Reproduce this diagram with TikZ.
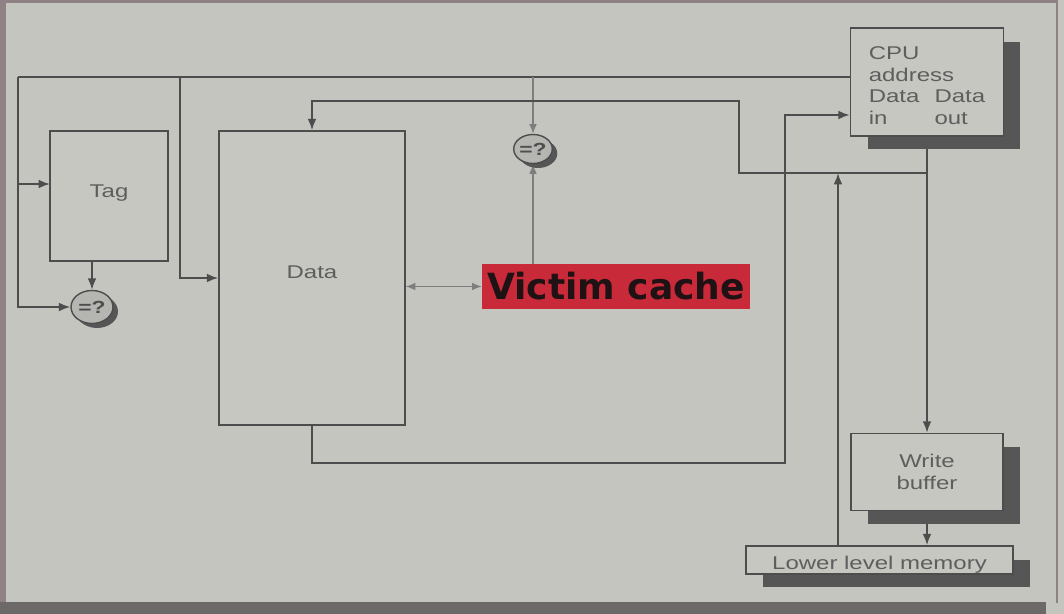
\documentclass[tikz,border=0pt]{standalone}
\usepackage{fontspec}
\setmainfont{Liberation Sans}[FakeStretch=1.3]
\newfontfamily\vicfamily{DejaVu Sans}
\usetikzlibrary{calc,arrows.meta,shapes.geometric,shadows}
\pgfdeclarelayer{back}
\pgfdeclarelayer{wires}
\pgfsetlayers{back,wires,main}
\definecolor{bgc}{HTML}{C4C5BF}
\definecolor{linec}{HTML}{4D4D4D}
\definecolor{boxc}{HTML}{C6C7C1}
\definecolor{txtc}{HTML}{5E5E5E}
\definecolor{shc}{HTML}{565656}
\definecolor{cmpc}{HTML}{B5B6B1}
\definecolor{lightc}{HTML}{7E7E7E}
\definecolor{vcred}{HTML}{C92A3A}
\definecolor{vctext}{HTML}{1E1214}
\definecolor{edgec}{HTML}{8E8285}
\definecolor{bottomc}{HTML}{6E6969}
\newcommand\lblfont{\fontsize{10.5}{12.3}\selectfont}
\newcommand\cmpfont{\fontsize{10}{11}\selectfont\bfseries}
\newcommand\vicfont{\vicfamily\bfseries\fontsize{20.5}{24}\selectfont}
\newcommand\shiftv[2]{\raisebox{#1}[\height][\depth]{#2}}
\begin{document}
\begin{tikzpicture}[x=0.02cm,y=-0.02cm,
  box/.style={draw=linec,line width=0.9pt,fill=boxc,inner sep=0pt,font=\lblfont,text=txtc,align=center},
  shbox/.style={box,drop shadow={shadow xshift=0.34cm,shadow yshift=-0.27cm,fill=shc,opacity=1}},
  cmp/.style={ellipse,draw=linec,line width=0.8pt,fill=cmpc,inner sep=0pt,font=\cmpfont,text=linec,
    drop shadow={shadow xshift=0.1cm,shadow yshift=-0.09cm,fill=shc,opacity=1}},
  wire/.style={draw=linec,line width=1pt},
  arr/.style={wire,-{Latex[length=6.5pt,width=5pt]}},
  lwire/.style={draw=lightc,line width=0.7pt},
  larr/.style={lwire,-{Latex[length=5.5pt,width=4.4pt]}},
  lboth/.style={lwire,{Latex[length=5.5pt,width=4.4pt]}-{Latex[length=5.5pt,width=4.4pt]}}]

\begin{pgfonlayer}{back}
  \fill[bgc] (0,0) rectangle (1064,614);
  \fill[edgec] (0,0) rectangle (1058,3);
  \fill[edgec] (0,0) rectangle (6,603);
  \fill[edgec] (1056,0) rectangle (1058,603);
  \fill[bottomc] (0,602) rectangle (1046,614);
\end{pgfonlayer}

% nodes
\node[box,minimum width=2.36cm,minimum height=2.6cm] (tag) at (109,196) {\shiftv{1.7pt}{Tag}};
\node[box,minimum width=3.72cm,minimum height=5.88cm] (data) at (312,278) {\shiftv{3pt}{Data}};
\node[shbox,minimum width=3.06cm,minimum height=2.16cm] (cpu) at (927,82)
  {\shiftv{-3.2pt}{\begin{tabular}{@{}l@{}}CPU\\address\\\makebox[37.4pt][l]{Data}Data\\\makebox[37.4pt][l]{in}out\end{tabular}}};
\node[shbox,minimum width=3.04cm,minimum height=1.54cm] (wb) at (927,472) {Write\\buffer};
\node[shbox,minimum width=5.34cm,minimum height=0.56cm] (mem) at (879.5,560) {\shiftv{-2.6pt}{Lower level memory}};
\node[fill=vcred,minimum width=5.36cm,minimum height=0.9cm,inner sep=0pt,font=\vicfont,text=vctext] (vc) at (616,286.5) {Victim cache};
\node[cmp,minimum width=0.84cm,minimum height=0.66cm] (tcmp) at (92,307) {=?};
\node[cmp,minimum width=0.76cm,minimum height=0.58cm] (vcmp) at (533,149) {=?};

% connectors
\begin{pgfonlayer}{wires}
  \coordinate (aL) at (18,77);
  \coordinate (aD) at (180,77);
  \coordinate (tagin) at (50,184);
  \draw[wire] (cpu.west |- aL) -- (aL);
  \draw[arr] (aL) |- (tcmp.west);
  \draw[arr] (aL |- tagin) -- (tagin);
  \draw[arr] (aD) |- (data.west);
  \draw[larr] (vcmp.north |- aL) -- (vcmp.north);
  \draw[arr] (tag.south -| tcmp.north) -- (tcmp.north);
  \coordinate (dm) at (739,173);
  \coordinate (dt) at (739,101);
  \draw[arr] (cpu.south) -- (wb.north);
  \draw[arr] (cpu.south |- dm) -- (dm) -- (dt) -| (data.north);
  \coordinate (mu) at (838,173);
  \draw[arr] (mem.north -| mu) -- (mu);
  \coordinate (di) at (785,115);
  \coordinate (db) at (785,463);
  \draw[arr] (data.south) |- (db) -- (di) -- (cpu.west |- di);
  \draw[arr] (wb.south) -- (wb.south |- mem.north);
  \draw[lboth] (data.east |- vc.west) -- (vc.west);
  \draw[larr] (vc.north -| vcmp.south) -- (vcmp.south);
\end{pgfonlayer}
\end{tikzpicture}
\end{document}
